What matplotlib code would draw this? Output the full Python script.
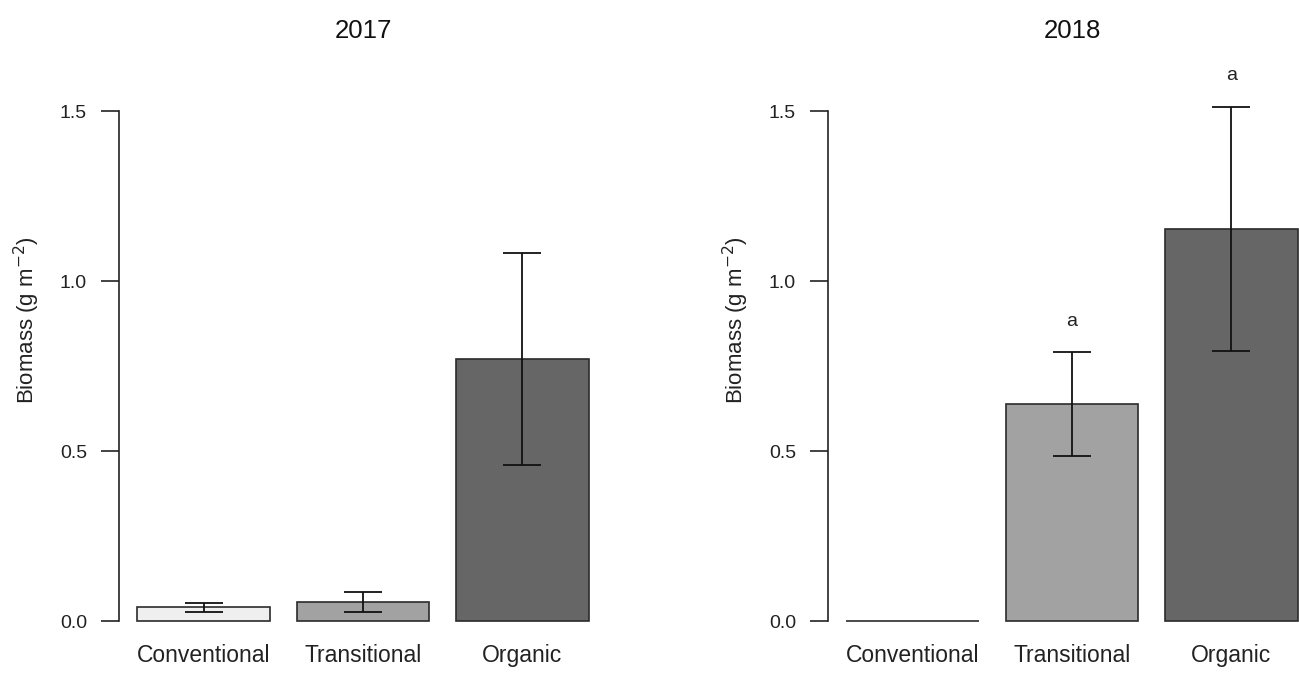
import numpy as np
import matplotlib
matplotlib.use("Agg")
import matplotlib.pyplot as plt

plt.rcParams['font.family'] = ['Liberation Sans', 'DejaVu Sans']

# data
systems = ['Conventional', 'Transitional', 'Organic']
years = ['2017', '2018']
mean_2017 = [0.040, 0.056, 0.771]
se_2017 = [0.014, 0.030, 0.312]
mean_2018 = [0.0, 0.638, 1.153]
se_2018 = [0.0, 0.153, 0.360]
letters_2017 = ['', '', '']
letters_2018 = ['', 'a', 'a']
fills = ['#efefef', '#a2a2a2', '#666666']

W, H = 1299, 691
fig = plt.figure(figsize=(W / 100, H / 100), dpi=100)

# bar layout like R barplot: width 1, space 0.2
xpos = np.array([0.7, 1.9, 3.1])
ax_w = 488 / W
ax_b = (H - 641.4) / H
ax_h = 550.8 / H
lefts = [119 / W, 828 / W]

panels = [(mean_2017, se_2017, letters_2017), (mean_2018, se_2018, letters_2018)]

for i, (means, ses, letters) in enumerate(panels):
    ax = fig.add_axes([lefts[i], ax_b, ax_w, ax_h])
    ax.bar(xpos, means, width=1.0, color=fills, edgecolor='#2b2b2b', linewidth=1.2, zorder=2)
    for x, m, s in zip(xpos, means, ses):
        if s > 0:
            ax.errorbar(x, m, yerr=s, fmt='none', ecolor='#111111', elinewidth=1.3,
                        capsize=14, capthick=1.3, zorder=3)
    for x, m, s, l in zip(xpos, means, ses, letters):
        if l:
            ax.text(x, m + s + 0.09, l, ha='center', va='center', fontsize=14,
                    color='#222222', clip_on=False)

    ax.set_xlim(0.064, 3.736)
    ax.set_ylim(-0.06, 1.56)
    ax.set_yticks([0.0, 0.5, 1.0, 1.5])
    ax.set_yticklabels(['0.0', '0.5', '1.0', '1.5'])
    ax.set_xticks(xpos)
    ax.set_xticklabels(systems)
    ax.tick_params(axis='x', length=0, pad=2, labelsize=16.5, colors='#222222')
    ax.tick_params(axis='y', length=13, width=1.2, pad=10, labelsize=14, colors='#222222')

    for side in ['top', 'right', 'bottom']:
        ax.spines[side].set_visible(False)
    ax.spines['left'].set_bounds(0, 1.5)
    ax.spines['left'].set_linewidth(1.2)
    ax.spines['left'].set_color('#222222')

    ax.set_ylabel('Biomass (g m$^{-2}$)', fontsize=16, color='#222222')
    ax.yaxis.set_label_coords(-0.158, 0.583)
    ax.set_title(years[i], fontsize=18.5, pad=38, color='#111111')

fig.savefig('out.png', dpi=100)
